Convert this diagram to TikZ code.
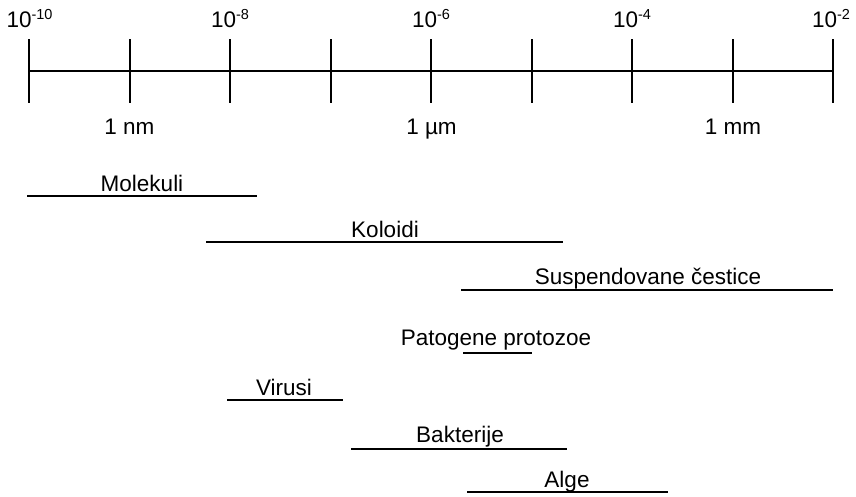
\documentclass[tikz,border=0pt]{standalone}
\usepackage{fontspec}
\setmainfont{Liberation Sans}
\newcommand\pw[1]{\raisebox{7.5pt}{\fontsize{14.5}{14.5}\selectfont #1}}
\begin{document}
\begin{tikzpicture}[x=1pt,y=-1pt,
  lbl/.style={font=\fontsize{22.5}{27}\selectfont, inner sep=0pt, anchor=base},
  axisline/.style={line width=2pt},
  barline/.style={line width=1.3pt}]
\useasboundingbox (0,0) rectangle (856,496);
% axis
\coordinate (a0) at (29,71);
\coordinate (a1) at (833,71);
\draw[axisline] (a0) -- (a1);
\foreach \i in {0,...,8} {
  \coordinate (tt\i) at (29+100.5*\i,39);
  \coordinate (tb\i) at (29+100.5*\i,103);
  \draw[axisline] (tt\i) -- (tb\i);
}
% top labels
\node[lbl] (e10) at (29.5,27) {10\pw{-10}};
\node[lbl] (e8) at (230,27) {10\pw{-8}};
\node[lbl] (e6) at (431,27) {10\pw{-6}};
\node[lbl] (e4) at (632,27) {10\pw{-4}};
\node[lbl] (e2) at (831,27) {10\pw{-2}};
% bottom labels
\node[lbl] (nm) at (129.5,134) {1 nm};
\node[lbl] (um) at (431.5,134) {1 µm};
\node[lbl] (mm) at (733,134) {1 mm};
% bars
\coordinate (molL) at (27,196); \coordinate (molR) at (257,196);
\draw[barline] (molL) -- (molR);
\node[lbl] (mol) at (142,191) {Molekuli};

\coordinate (kolL) at (206,242); \coordinate (kolR) at (563,242);
\draw[barline] (kolL) -- (kolR);
\node[lbl] (kol) at (385,237) {Koloidi};

\coordinate (susL) at (461,290); \coordinate (susR) at (833,290);
\draw[barline] (susL) -- (susR);
\node[lbl] (sus) at (648,284) {Suspendovane čestice};

\coordinate (patL) at (463,353); \coordinate (patR) at (532,353);
\draw[barline] (patL) -- (patR);
\node[lbl] (pat) at (496,345) {Patogene protozoe};

\coordinate (virL) at (227,400); \coordinate (virR) at (343,400);
\draw[barline] (virL) -- (virR);
\node[lbl] (vir) at (284,395) {Virusi};

\coordinate (bakL) at (351,449); \coordinate (bakR) at (567,449);
\draw[barline] (bakL) -- (bakR);
\node[lbl] (bak) at (460,442) {Bakterije};

\coordinate (algL) at (467,492); \coordinate (algR) at (668,492);
\draw[barline] (algL) -- (algR);
\node[lbl] (alg) at (567,487) {Alge};
\end{tikzpicture}
\end{document}
